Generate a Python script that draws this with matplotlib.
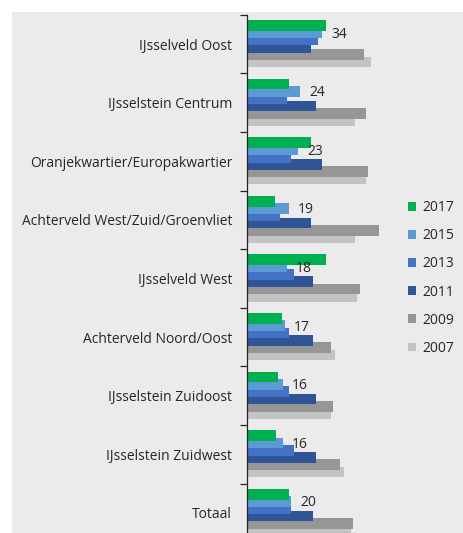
import matplotlib
matplotlib.use("Agg")
import matplotlib.pyplot as plt
from matplotlib.patches import Rectangle, Patch
import numpy as np

plt.rcParams['font.family'] = ['Open Sans', 'DejaVu Sans']

categories = [
    "IJsselveld Oost",
    "IJsselstein Centrum",
    "Oranjekwartier/Europakwartier",
    "Achterveld West/Zuid/Groenvliet",
    "IJsselveld West",
    "Achterveld Noord/Oost",
    "IJsselstein Zuidoost",
    "IJsselstein Zuidwest",
    "Totaal",
]
series_names = ["2017", "2015", "2013", "2011", "2009", "2007"]
v2017 = [35.6, 19, 29, 12.7, 35.6, 15.6, 14, 13, 19]
v2015 = [34, 24, 23, 19, 18, 17, 16, 16, 20]
v2013 = [32, 18, 20, 15, 21, 19, 19, 21, 20]
v2011 = [29, 31, 34, 29, 30, 30, 31, 31, 30]
v2009 = [53, 54, 55, 60, 51, 38, 39, 42, 48]
v2007 = [56, 49, 54, 49, 50, 40, 38, 44, 47]
series_values = [v2017, v2015, v2013, v2011, v2009, v2007]
labels_2015 = v2015

colors = ["#00b050", "#5b9bd5", "#4472c4", "#2f5597", "#969696", "#c3c3c3"]

W, H = 464, 533
fig = plt.figure(figsize=(W / 100, H / 100), dpi=100)
bg = Rectangle((12 / W, 0), 1, 1 - 12 / H, transform=fig.transFigure,
               facecolor="#ebebeb", edgecolor="none", zorder=-10)
fig.patches.append(bg)

ax_left_px = 247.3
ax_top_px = 14.7
group_px = 58.6
n = len(categories)
ax_h_px = group_px * n
ax = fig.add_axes([ax_left_px / W, 1 - (ax_top_px + ax_h_px) / H,
                   (W - ax_left_px) / W, ax_h_px / H])
ax.set_facecolor("none")
ax.set_zorder(5)
px_per_unit = 2.2
ax.set_xlim(0, (W - ax_left_px) / px_per_unit)
ax.set_ylim(n - 0.5, -0.5)

bar_h = 10.7 / group_px
step = 7.3 / group_px
first_center = -0.5 + 5.3 / group_px + bar_h / 2
y = np.arange(n)
for j, (name, vals, c) in enumerate(zip(series_names, series_values, colors)):
    ax.barh(y + first_center + j * step, vals, height=bar_h, color=c,
            zorder=10 - j, label=name, linewidth=0)

ypos15 = y + first_center + 1 * step
for yy, v in zip(ypos15, labels_2015):
    ax.annotate(f"{v:g}", xy=(v, yy), xytext=(9, -1.5), textcoords="offset pixels",
                ha="left", va="center", fontsize=10, color="#262626", zorder=20)

for s in ["top", "right", "bottom"]:
    ax.spines[s].set_visible(False)
ax.spines["left"].set_color("#262626")
ax.spines["left"].set_linewidth(0.9)
ax.spines["left"].set_zorder(30)
ax.set_xticks([])
ax.set_yticks(y)
ax.set_yticklabels(categories, fontsize=10, color="#262626")
ax.tick_params(axis="y", which="major", length=0, pad=11)
ax.set_yticks(np.arange(-0.5, n, 1.0), minor=True)
ax.tick_params(axis="y", which="minor", length=5, width=0.9, color="#262626")

handles = [Patch(facecolor=c, edgecolor="none") for c in colors]
leg = fig.legend(handles, series_names, loc="upper left",
                 bbox_to_anchor=(408 / W, 1 - 200 / H), frameon=False,
                 fontsize=10, handlelength=0.6, handleheight=0.6, handletextpad=0.45,
                 labelspacing=0.95, borderaxespad=0, borderpad=0, labelcolor="#262626")
leg.set_zorder(10)

fig.savefig("out.png", dpi=100)
